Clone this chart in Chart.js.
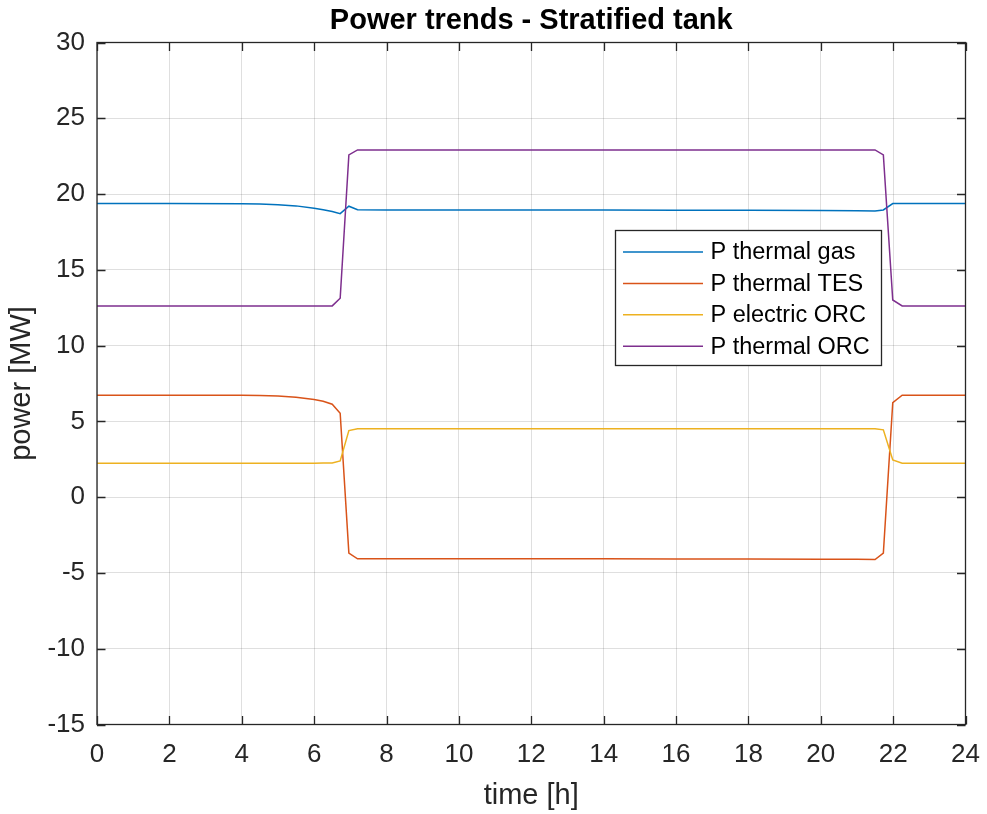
<!DOCTYPE html>
<html>
<head>
<meta charset="utf-8">
<title>Power trends - Stratified tank</title>
<script src="https://cdn.jsdelivr.net/npm/chart.js@4/dist/chart.umd.min.js"></script>
<style>
  html, body { margin: 0; padding: 0; background: #fff; }
  canvas { display: block; }
</style>
</head>
<body>
<canvas id="powerChart" width="987" height="814"></canvas>
<script>
// time axis [h] and power series [MW]
const hours = [0, 2, 4, 4.5, 5, 5.5, 6, 6.25, 6.5, 6.72, 6.96, 7.2, 8, 10, 12, 14, 16, 18, 20, 21, 21.5, 21.73, 21.99, 22.25, 24];
const thermalGas = [19.37, 19.37, 19.36, 19.34, 19.30, 19.22, 19.07, 18.97, 18.85, 18.71, 19.20, 18.97, 18.95, 18.95, 18.94, 18.94, 18.93, 18.93, 18.92, 18.90, 18.88, 18.95, 19.37, 19.37, 19.37];
const thermalTES = [6.73, 6.73, 6.72, 6.70, 6.67, 6.60, 6.45, 6.33, 6.13, 5.54, -3.69, -4.07, -4.07, -4.07, -4.07, -4.07, -4.08, -4.08, -4.09, -4.10, -4.12, -3.69, 6.24, 6.73, 6.73];
const electricORC = [2.24, 2.24, 2.24, 2.24, 2.24, 2.24, 2.24, 2.25, 2.26, 2.39, 4.39, 4.52, 4.52, 4.52, 4.52, 4.52, 4.52, 4.52, 4.52, 4.52, 4.52, 4.44, 2.46, 2.24, 2.24];
const thermalORC = [12.62, 12.62, 12.62, 12.62, 12.62, 12.62, 12.62, 12.62, 12.62, 13.13, 22.58, 22.91, 22.91, 22.91, 22.91, 22.91, 22.91, 22.91, 22.91, 22.91, 22.91, 22.58, 13.01, 12.62, 12.62];

const seriesNames = ["P thermal gas", "P thermal TES", "P electric ORC", "P thermal ORC"];
const seriesColors = ["#0072BD", "#D95319", "#EDB120", "#7E2F8E"];

const axisColor = "#262626";
const fontFamily = "'Liberation Sans', Arial, Helvetica, sans-serif";

function toPoints(values) {
  return values.map((v, i) => ({ x: hours[i], y: v }));
}

const allSeries = [thermalGas, thermalTES, electricORC, thermalORC];
const datasets = allSeries.map((vals, i) => ({
  label: seriesNames[i],
  data: toPoints(vals),
  borderColor: seriesColors[i],
  backgroundColor: seriesColors[i],
  borderWidth: 1.5,
  pointRadius: 0,
  tension: 0,
  fill: false,
  order: allSeries.length - i
}));

// axes box with inward tick marks on all four sides
const boxPlugin = {
  id: "axesBox",
  afterDatasetsDraw(chart) {
    const { ctx, chartArea: a, scales } = chart;
    const len = 8.5;
    ctx.save();
    ctx.strokeStyle = axisColor;
    ctx.lineWidth = 1.3;
    ctx.strokeRect(a.left, a.top, a.right - a.left, a.bottom - a.top);
    ctx.beginPath();
    scales.x.ticks.forEach(t => {
      const px = Math.round(scales.x.getPixelForValue(t.value)) + 0.5;
      ctx.moveTo(px, a.bottom); ctx.lineTo(px, a.bottom - len);
      ctx.moveTo(px, a.top); ctx.lineTo(px, a.top + len);
    });
    scales.y.ticks.forEach(t => {
      const py = Math.round(scales.y.getPixelForValue(t.value)) + 0.5;
      ctx.moveTo(a.left, py); ctx.lineTo(a.left + len, py);
      ctx.moveTo(a.right, py); ctx.lineTo(a.right - len, py);
    });
    ctx.stroke();
    ctx.restore();
  }
};

// boxed legend inside the plot area
const legendPlugin = {
  id: "boxLegend",
  afterDraw(chart, args, opts) {
    const { ctx } = chart;
    const x = opts.x, y = opts.y, w = opts.width, h = opts.height;
    ctx.save();
    ctx.fillStyle = "#fff";
    ctx.fillRect(x, y, w, h);
    ctx.strokeStyle = axisColor;
    ctx.lineWidth = 1.3;
    ctx.strokeRect(x, y, w, h);
    ctx.font = opts.fontSize + "px " + fontFamily;
    ctx.textBaseline = "middle";
    ctx.textAlign = "left";
    chart.data.datasets.forEach((ds, i) => {
      const rowY = y + opts.firstRow + i * opts.rowGap;
      ctx.strokeStyle = ds.borderColor;
      ctx.lineWidth = ds.borderWidth;
      ctx.beginPath();
      ctx.moveTo(x + 7.5, rowY);
      ctx.lineTo(x + 87.5, rowY);
      ctx.stroke();
      ctx.fillStyle = "#000";
      ctx.fillText(ds.label, x + 95, rowY + 1);
    });
    ctx.restore();
  }
};

new Chart(document.getElementById("powerChart").getContext("2d"), {
  type: "line",
  data: { datasets },
  plugins: [boxPlugin, legendPlugin],
  options: {
    responsive: false,
    devicePixelRatio: 1,
    animation: false,
    layout: { padding: { left: 0, right: 21.5, top: 0, bottom: 0 } },
    plugins: {
      legend: { display: false },
      tooltip: { enabled: false },
      title: {
        display: true,
        fullSize: false,
        text: "Power trends - Stratified tank",
        color: "#000",
        font: { family: fontFamily, size: 29, weight: "bold", lineHeight: 1.2 },
        padding: { top: 4, bottom: 3.7 }
      },
      boxLegend: { x: 615.5, y: 230.5, width: 266, height: 135, fontSize: 23.5, firstRow: 21.5, rowGap: 31.4 }
    },
    scales: {
      x: {
        type: "linear",
        min: 0,
        max: 24,
        ticks: {
          stepSize: 2,
          color: axisColor,
          padding: 15,
          maxRotation: 0,
          font: { family: fontFamily, size: 26 }
        },
        grid: { color: "rgba(38,38,38,0.15)", lineWidth: 1, drawTicks: false },
        border: { display: false },
        title: {
          display: true,
          text: "time [h]",
          color: axisColor,
          font: { family: fontFamily, size: 29, lineHeight: 1.2 },
          padding: { top: 0, bottom: 1 }
        },
        afterFit(scale) {
          scale.height = 89.5;
          scale.paddingLeft = 0;
          scale.paddingRight = 0;
        }
      },
      y: {
        type: "linear",
        min: -15,
        max: 30,
        ticks: {
          stepSize: 5,
          color: axisColor,
          padding: 12,
          font: { family: fontFamily, size: 26 }
        },
        grid: { color: "rgba(38,38,38,0.15)", lineWidth: 1, drawTicks: false },
        border: { display: false },
        title: {
          display: true,
          text: "power [MW]",
          color: axisColor,
          font: { family: fontFamily, size: 29, lineHeight: 1.2 },
          padding: { top: 5, bottom: 0 }
        },
        afterFit(scale) {
          scale.width = 97;
          scale.paddingTop = 0;
          scale.paddingBottom = 0;
        }
      }
    }
  }
});
</script>
</body>
</html>
